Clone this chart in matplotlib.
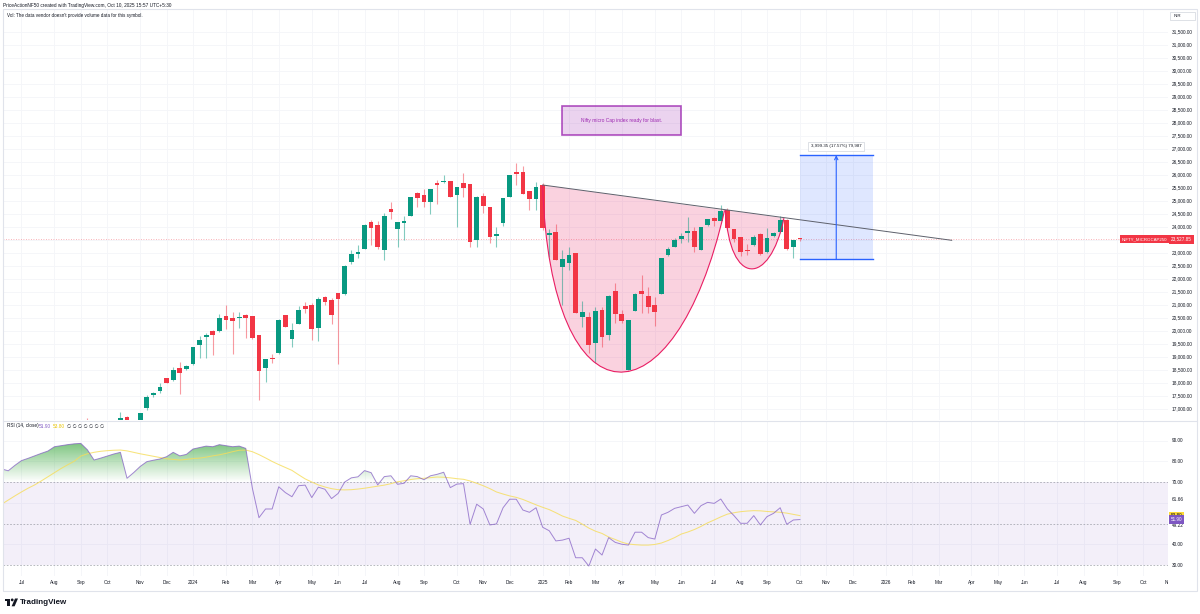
import numpy as np
import pandas as pd
import matplotlib
matplotlib.use("Agg")
import matplotlib.pyplot as plt
import matplotlib.dates as mdates
from matplotlib.path import Path
from matplotlib.patches import PathPatch, Rectangle, Polygon, Circle
from matplotlib.colors import LinearSegmentedColormap
from matplotlib.transforms import blended_transform_factory, Affine2D
from matplotlib.lines import Line2D

plt.rcParams['font.family'] = ['Liberation Sans', 'DejaVu Sans']

# ---------------- data (weekly candles, NIFTY_MICROCAP250) ----------------
candle_start = '2023-09-11'
opens = [16300, 16000, 15700, 16000, 16300, 16450, 16700, 16250, 16450, 17030,
         17530, 17705, 18180, 18115, 18565, 18530,
         18730, 19475, 19780, 19990, 20000, 20575, 20500, 20515, 20625, 20575,
         19835, 18565, 18975, 19140, 20605, 19680, 20270, 20960, 21010, 20130,
         21295, 21190, 21475, 21425, 22665, 22950, 23165, 24180, 24090, 23115,
         24680, 23910, 24145, 24435, 25295, 25230, 24950, 25680, 25720, 25770,
         25245, 25680, 25655, 23500, 25190, 24760, 23665, 24165, 25165, 26105,
         26105, 25395, 25065,
         25615, 23690, 23820, 22450, 22605, 22990, 20550, 20550, 19525, 20810,
         19845, 21550, 20655, 18500, 20770, 21525, 21360, 21000, 21425, 22925,
         23245, 23525, 23780, 23845, 23115, 24075, 24335, 24245, 24655, 23910,
         23605, 23115, 23310, 23720, 23040, 23655, 23810, 24270, 23220, 23560]
highs = [16640, 16300, 16100, 16400, 16550, 16870, 16720, 16500, 16850, 17540,
         17640, 18010, 18200, 18600, 18800, 18680,
         19400, 19810, 19935, 20040, 20650, 20990, 20730, 20740, 20655, 20580,
         19840, 18930, 19105, 20450, 20620, 20320, 20960, 21130, 21065, 21295,
         21360, 21270, 21480, 22520, 23115, 23310, 24115, 24270, 24220, 24525,
         24975, 24200, 24435, 25145, 25360, 25450, 25460, 25810, 26000, 25780,
         25530, 26065, 25660, 25180, 25300, 24770, 23990, 25110, 26010, 26475,
         26360, 25400, 25720,
         25680, 23925, 24115, 23115, 23240, 23000, 21165, 20740, 20935, 20935,
         21370, 21835, 20810, 20430, 21450, 22155, 21705, 21320, 22800, 23240,
         23560, 23780, 24395, 24010, 24000, 24320, 24400, 24845, 24720, 23920,
         23610, 23345, 23700, 23780, 23950, 23820, 24420, 24300, 23510, 23580]
lows = [15900, 15500, 15600, 15800, 16100, 16300, 16100, 16100, 16400, 16960,
        17480, 17630, 17990, 18090, 17580, 18500,
        18700, 18950, 18950, 19065, 19975, 20065, 19115, 20105, 19720, 19700,
        17350, 18050, 18780, 19130, 20150, 19395, 20250, 20680, 19655, 19630,
        21000, 20270, 18730, 21400, 22575, 22800, 23150, 23310, 23165, 22730,
        24295, 23220, 23500, 24430, 24760, 24760, 24500, 24875, 25680, 25150,
        23990, 25165, 23240, 23220, 24525, 23375, 23220, 24040, 25160, 25615,
        25250, 24655, 24655,
        23885, 22860, 22720, 21000, 22345, 20690, 20165, 19140, 18760, 19395,
        19655, 20295, 20295, 18490, 20750, 20680, 20680, 20190, 21420, 22885,
        23220, 23375, 23435, 23050, 23100, 24040, 24040, 24240, 23885, 23435,
        22885, 22925, 23250, 22925, 23000, 23600, 23770, 23100, 22795, 23480]
closes = [16000, 15700, 16000, 16300, 16450, 16650, 16250, 16450, 16835, 17470,
          17600, 17855, 18015, 18500, 18400, 18650,
          19370, 19665, 19845, 19835, 20490, 20425, 20385, 20550, 20490, 19720,
          18475, 18925, 18925, 20435, 20165, 20025, 20795, 20845, 20080, 21230,
          21105, 20630, 21220, 22510, 22950, 23025, 24065, 23980, 23220, 24425,
          24575, 24180, 24240, 25142, 25105, 24950, 25450, 25630, 25780, 25155,
          25525, 25515, 23435, 25165, 24810, 23625, 23730, 25105, 26000, 26030,
          25255, 25065, 25550,
          23950, 23760, 22730, 22770, 22925, 20705, 20740, 19460, 20780, 19780,
          21360, 20655, 20395, 20425, 21425, 21425, 20935, 20720, 22795, 23165,
          23500, 23655, 23845, 23220, 23990, 24295, 24230, 24615, 23950, 23525,
          23050, 23090, 23625, 22960, 23565, 23755, 24270, 23155, 23500, 23527.85]
last_price = 23527.85

rsi_start = '2023-06-12'
rsi = [76.3, 75.4, 78.0, 80.3, 81.4, 82.6, 83.8, 84.9, 87.0, 87.5,
       88.0, 88.4, 88.6, 85.5, 80.6, 81.5, 82.5, 83.5, 84.3, 71.8,
       74.5, 77.5, 79.8, 80.5, 81.1, 82.2, 84.3, 82.6, 83.3, 85.9,
       86.6, 87.3, 87.0, 88.0, 87.5, 87.0, 87.3, 86.2, 67.0, 52.8,
       57.0, 57.0, 67.7, 64.9, 62.9, 68.2, 68.5, 62.5, 67.5, 66.5,
       62.0, 64.5, 70.0, 72.0, 72.5, 75.5, 74.5, 68.6, 72.6, 73.0,
       68.9, 69.4, 73.0, 72.6, 71.1, 73.0, 73.7, 74.7, 67.3, 69.0,
       69.2, 49.6, 59.3, 57.0, 49.3, 49.8, 57.6, 61.7, 61.7, 56.5,
       55.4, 57.6, 48.2, 46.5, 41.6, 42.0, 42.9, 33.5, 33.5, 29.5,
       37.7, 34.8, 43.2, 40.9, 40.0, 39.6, 45.8, 45.8, 43.2, 42.5,
       54.1, 55.4, 57.3, 58.1, 58.9, 54.9, 58.6, 60.2, 59.7, 61.8,
       57.0, 53.8, 50.1, 50.1, 53.8, 49.3, 53.3, 54.9, 57.6, 49.6,
       51.7, 51.9]
rsi_ma = [59.3, 61.3, 63.3, 65.2, 67.0, 68.6, 70.5, 72.5, 74.5, 76.5,
          78.3, 80.0, 82.5, 83.6, 84.3, 84.8, 85.1, 85.3, 85.4, 85.0,
          84.3, 83.6, 83.0, 82.4, 81.8, 81.2, 80.9, 80.6, 80.9, 81.3,
          81.5, 82.0, 82.6, 83.1, 83.8, 84.6, 85.3, 85.4, 84.6, 83.2,
          81.6, 79.9, 78.4, 77.0, 75.6, 73.5, 71.5, 70.0, 68.6, 67.6,
          66.8, 66.3, 66.2, 66.3, 66.6, 67.0, 67.5, 68.0, 68.5, 69.2,
          70.1, 70.6, 71.2, 71.6, 71.8, 72.1, 72.4, 72.3, 72.0, 71.6,
          71.3, 70.5, 69.4, 68.2, 66.8, 65.2, 64.2, 63.3, 62.6, 61.6,
          60.3, 59.0, 57.8, 56.7, 55.2, 53.6, 52.5, 51.5, 49.7, 47.8,
          46.3, 45.2, 43.5, 42.3, 41.0, 40.1, 39.8, 39.6, 39.6, 39.9,
          40.6, 41.8, 43.2, 44.9, 45.9, 47.1, 48.6, 50.3, 51.7, 53.2,
          54.5, 55.2, 55.7, 56.0, 56.2, 56.1, 55.8, 55.6, 55.4, 55.0,
          54.4, 53.8]

# time axis labels (as placed on the chart)
month_labels = ['Jul', 'Aug', 'Sep', 'Oct', 'Nov', 'Dec', '2024', 'Feb', 'Mar', 'Apr', 'May', 'Jun',
                'Jul', 'Aug', 'Sep', 'Oct', 'Nov', 'Dec', '2025', 'Feb', 'Mar', 'Apr', 'May', 'Jun',
                'Jul', 'Aug', 'Sep', 'Oct', 'Nov', 'Dec', '2026', 'Feb', 'Mar', 'Apr', 'May', 'Jun',
                'Jul', 'Aug', 'Sep', 'Oct', 'Nov']
month_dates = ['2023-07-03', '2023-08-07', '2023-09-04', '2023-10-02', '2023-11-06', '2023-12-04',
               '2024-01-01', '2024-02-05', '2024-03-04', '2024-04-01', '2024-05-06', '2024-06-03',
               '2024-07-01', '2024-08-05', '2024-09-02', '2024-10-07', '2024-11-04', '2024-12-02',
               '2025-01-06', '2025-02-03', '2025-03-03', '2025-03-31', '2025-05-05', '2025-06-02',
               '2025-07-07', '2025-08-04', '2025-09-01', '2025-10-06', '2025-11-03', '2025-12-01',
               '2026-01-05', '2026-02-02', '2026-03-02', '2026-04-06', '2026-05-04', '2026-06-01',
               '2026-07-06', '2026-08-03', '2026-09-07', '2026-10-05', '2026-11-02']
price_labels = [17000, 17500, 18000, 18500, 19000, 19500, 20000, 20500, 21000, 21500, 22000,
                22500, 23000, 24000, 24500, 25000, 25500, 26000, 26500, 27000, 27500, 28000,
                28500, 29000, 29500, 30000, 30500, 31000, 31500]
rsi_labels = [90, 80, 70, 40, 30]

# drawings on the chart
trend_dates = ['2025-01-06', '2026-03-16']
trend_prices = [25615, 23488]
cup_dates = ['2025-01-06', '2025-01-14', '2025-05-26', '2025-07-18']
cup_prices = [25615, 16190, 16190, 24640]
handle_dates = ['2025-07-19', '2025-07-23', '2025-09-04', '2025-09-19']
handle_prices = [24650, 21690, 21690, 24340]
target_dates = ['2025-10-06', '2025-12-22']
target_prices = [22762, 26761]
target_text = '3,999.35 (17.57%) 79,987'
note_dates = ['2025-01-26 12:00', '2025-06-01 19:00']
note_prices = [27538, 28654]
note_text = 'Nifty micro Cap index ready for blast.'

# ---------------- layout ----------------
W, H = 1200, 614
fig = plt.figure(figsize=(W / 100, H / 100), dpi=100)
pix = Affine2D().scale(1.0 / W, -1.0 / H).translate(0, 1) + fig.transFigure


def box(x0, y0, x1, y1):
    return [x0 / W, 1 - y1 / H, (x1 - x0) / W, (y1 - y0) / H]


def dnum(s):
    return mdates.date2num(pd.Timestamp(s))


UP, DOWN = '#089981', '#F23645'
GRID = '#F4F5F9'
TXT = '#131722'
FS = 3.4

ax1 = fig.add_axes(box(3, 9, 1168, 420))
ax2 = fig.add_axes(box(3, 421, 1168, 576))
ax3 = fig.add_axes(box(3, 576, 1168, 591))
xmin, xmax = dnum('2023-06-13 10:00'), dnum('2026-10-31 12:00')
for ax in (ax1, ax2, ax3):
    ax.set_xlim(xmin, xmax)
    ax.set_xticks([])
    ax.set_yticks([])
    for s in ax.spines.values():
        s.set_visible(False)
    ax.patch.set_alpha(0)
ax1.set_ylim(16577, 32384)
ax2.set_ylim(24.7, 99.4)
ax3.set_ylim(0, 1)

# grid
for d in month_dates:
    ax1.axvline(dnum(d), color=GRID, lw=0.6, zorder=0)
    ax2.axvline(dnum(d), color=GRID, lw=0.6, zorder=0)
for p in price_labels + [23500]:
    ax1.axhline(p, color=GRID, lw=0.6, zorder=0)
for r in [40, 60, 80, 90]:
    ax2.axhline(r, color=GRID, lw=0.6, zorder=0)

# ---------------- candles ----------------
cdates = mdates.date2num(pd.date_range(candle_start, periods=len(closes), freq='7D'))
o = np.array(opens, float)
h = np.array(highs, float)
l = np.array(lows, float)
c = np.array(closes, float)
cols = [UP if cc >= oo else DOWN for oo, cc in zip(o, c)]
ax1.vlines(cdates, l, h, colors=cols, lw=0.8, alpha=0.5, zorder=3)
body_h = np.maximum(np.abs(c - o), 18)
ax1.bar(cdates, body_h, bottom=np.minimum(o, c), width=5, color=cols, lw=0, zorder=4)

ax1.axhline(last_price, color=DOWN, lw=0.6, ls=(0, (1, 2)), alpha=0.5, zorder=2)

# cup & handle arcs
codes = [Path.MOVETO, Path.CURVE4, Path.CURVE4, Path.CURVE4]
for ds, ps in ((cup_dates, cup_prices), (handle_dates, handle_prices)):
    verts = [(dnum(d), p) for d, p in zip(ds, ps)]
    fill = Path(verts + [verts[0]], codes + [Path.CLOSEPOLY])
    ax1.add_patch(PathPatch(fill, facecolor='#E91E63', alpha=0.2, edgecolor='none', zorder=2))
    ax1.add_patch(PathPatch(Path(verts, codes), facecolor='none', edgecolor='#E91E63', lw=0.8, zorder=5))

# trend line
ax1.plot([dnum(d) for d in trend_dates], trend_prices, color='#5d606b', lw=0.7, zorder=5)

# price range (target) tool
tx0, tx1 = dnum(target_dates[0]), dnum(target_dates[1])
ax1.add_patch(Rectangle((tx0, target_prices[0]), tx1 - tx0, target_prices[1] - target_prices[0],
                        facecolor='#2962FF', alpha=0.15, edgecolor='none', zorder=2))
for tp in target_prices:
    ax1.plot([tx0, tx1], [tp, tp], color='#2962FF', lw=1.0, zorder=5)
tmid = (tx0 + tx1) / 2
ax1.annotate('', xy=(tmid, target_prices[1]), xytext=(tmid, target_prices[0]),
             arrowprops=dict(arrowstyle='->', color='#2962FF', lw=0.8, shrinkA=0, shrinkB=0,
                             mutation_scale=6), zorder=6)
ax1.annotate(target_text, xy=(tmid, target_prices[1]), xytext=(0, 6.5), textcoords='offset points',
             ha='center', va='center', fontsize=3.2, color=TXT, zorder=7,
             bbox=dict(boxstyle='square,pad=0.6', fc='white', ec='#D1D4DC', lw=0.5))

# note box
nx0, nx1 = dnum(note_dates[0]), dnum(note_dates[1])
ax1.add_patch(Rectangle((nx0, note_prices[0]), nx1 - nx0, note_prices[1] - note_prices[0],
                        facecolor='#9C27B0', alpha=0.2, edgecolor='none', zorder=2))
ax1.add_patch(Rectangle((nx0, note_prices[0]), nx1 - nx0, note_prices[1] - note_prices[0],
                        facecolor='none', edgecolor='#9C27B0', lw=1.2, alpha=0.8, zorder=5))
ax1.text((nx0 + nx1) / 2, sum(note_prices) / 2, note_text, ha='center', va='center',
         fontsize=3.5, color='#9C27B0', zorder=6)

# ---------------- RSI pane ----------------
rdates = mdates.date2num(pd.date_range(rsi_start, periods=len(rsi), freq='7D'))
rv = np.array(rsi, float)
ax2.axhspan(30, 70, color='#7E57C2', alpha=0.09, lw=0, zorder=0.5)
for lvl in (70, 50, 30):
    ax2.axhline(lvl, color='#9598A1', lw=0.6, ls=(0, (2, 2)), alpha=0.8, zorder=1)

grad = np.linspace(0, 1, 256).reshape(-1, 1)
ob = ax2.fill_between(rdates, 70, rv, where=rv >= 70, interpolate=True, facecolor='none', edgecolor='none')
g_cmap = LinearSegmentedColormap.from_list('g', [(0.30, 0.69, 0.31, 0.0), (0.30, 0.69, 0.31, 0.85)])
im = ax2.imshow(grad, cmap=g_cmap, extent=[xmin, xmax, 70, 92], origin='lower', aspect='auto', zorder=1.5)
im.set_clip_path(Path.make_compound_path(*ob.get_paths()), transform=ax2.transData)
os_ = ax2.fill_between(rdates, 30, rv, where=rv <= 30, interpolate=True, facecolor='none', edgecolor='none')
r_cmap = LinearSegmentedColormap.from_list('r', [(0.95, 0.21, 0.27, 0.85), (0.95, 0.21, 0.27, 0.0)])
im2 = ax2.imshow(grad, cmap=r_cmap, extent=[xmin, xmax, 10, 30], origin='lower', aspect='auto', zorder=1.5)
if os_.get_paths():
    im2.set_clip_path(Path.make_compound_path(*os_.get_paths()), transform=ax2.transData)
ax2.set_xlim(xmin, xmax)
ax2.set_ylim(24.7, 99.4)

ax2.plot(rdates, rsi_ma, color='#F6DD5A', lw=0.75, alpha=0.8, zorder=2)
ax2.plot(rdates, rv, color='#7E57C2', lw=0.7, alpha=0.7, zorder=3)

# ---------------- axes text ----------------
for lab, d in zip(month_labels, month_dates):
    ax3.text(dnum(d), 0.55, lab, ha='center', va='center', fontsize=FS, color=TXT, clip_on=True)

bt1 = blended_transform_factory(fig.transFigure, ax1.transData)
bt2 = blended_transform_factory(fig.transFigure, ax2.transData)
for p in price_labels:
    fig.text(1172 / W, p, f'{p:,.2f}', transform=bt1, ha='left', va='center', fontsize=FS, color=TXT)
fig.text(1167 / W, last_price, 'NIFTY_MICROCAP250', transform=bt1, ha='right', va='center',
         fontsize=3.2, color='white', bbox=dict(boxstyle='square,pad=0.45', fc=DOWN, ec='none'))
fig.text(1171 / W, last_price, f'{last_price:,.2f}', transform=bt1, ha='left', va='center',
         fontsize=3.3, color='white', bbox=dict(boxstyle='square,pad=0.45', fc=DOWN, ec='none'))

for r in rsi_labels:
    fig.text(1172 / W, r, f'{r:.2f}', transform=bt2, ha='left', va='center', fontsize=FS, color=TXT)
fig.text(1172 / W, 61.66, '61.66', transform=bt2, ha='left', va='center', fontsize=FS, color=TXT)
fig.text(1172 / W, 49.22, '49.22', transform=bt2, ha='left', va='center', fontsize=FS, color=TXT)
fig.text(1171 / W, rsi_ma[-1], f'{rsi_ma[-1]:.2f}', transform=bt2, ha='left', va='center', fontsize=3.3,
         color=TXT, bbox=dict(boxstyle='square,pad=0.35', fc='#FDD835', ec='none'))
fig.text(1171 / W, rsi[-1], f'{rsi[-1]:.2f}', transform=bt2, ha='left', va='center', fontsize=3.3,
         color='white', bbox=dict(boxstyle='square,pad=0.35', fc='#7E57C2', ec='none'))

# RSI legend
fig.text(7 / W, 1 - 426 / H, 'RSI (14, close)', fontsize=FS, color=TXT, va='center')
fig.text(39 / W, 1 - 426 / H, f'{rsi[-1]:.2f}', fontsize=FS, color='#7E57C2', va='center')
fig.text(53 / W, 1 - 426 / H, f'{rsi_ma[-1]:.2f}', fontsize=FS, color='#E8C400', va='center')
fig.text(67 / W, 1 - 426 / H, '\u2205 \u2205 \u2205 \u2205 \u2205 \u2205 \u2205', fontsize=FS, color=TXT, va='center')

# header, notes
fig.text(3 / W, 1 - 5 / H, 'PriceActionNF50 created with TradingView.com, Oct 10, 2025 15:57 UTC+5:30',
         fontsize=FS, color=TXT, va='center')
fig.text(7 / W, 1 - 15.5 / H, "Vol: The data vendor doesn't provide volume data for this symbol.",
         fontsize=3.3, color=TXT, va='center')
fig.add_artist(Rectangle((1170, 12), 25, 8, transform=pix, fill=False, ec='#D1D4DC', lw=0.5))
fig.text(1174 / W, 1 - 16 / H, 'INR', fontsize=3.2, color=TXT, va='center')

# frame & separators
fig.add_artist(Rectangle((3, 9), 1194, 582, transform=pix, fill=False, ec='#E0E3EB', lw=0.8))
fig.add_artist(Line2D([3, 1197], [420.5, 420.5], transform=pix, color='#E0E3EB', lw=0.8))

# TradingView logo
fig.add_artist(Rectangle((4.5, 598.5), 5.5, 2.6, transform=pix, color=TXT, lw=0))
fig.add_artist(Rectangle((7.4, 598.5), 2.6, 7.8, transform=pix, color=TXT, lw=0))
fig.add_artist(Circle((12.2, 599.9), 1.4, transform=pix, color=TXT, lw=0))
fig.add_artist(Polygon([(11.6, 606.3), (14.6, 606.3), (18.0, 598.5), (15.0, 598.5)], transform=pix,
                       color=TXT, lw=0))
fig.text(19.5 / W, 1 - 602.5 / H, 'TradingView', fontsize=5.8, fontweight='bold', color=TXT, va='center')

fig.savefig('out.png', dpi=100)
